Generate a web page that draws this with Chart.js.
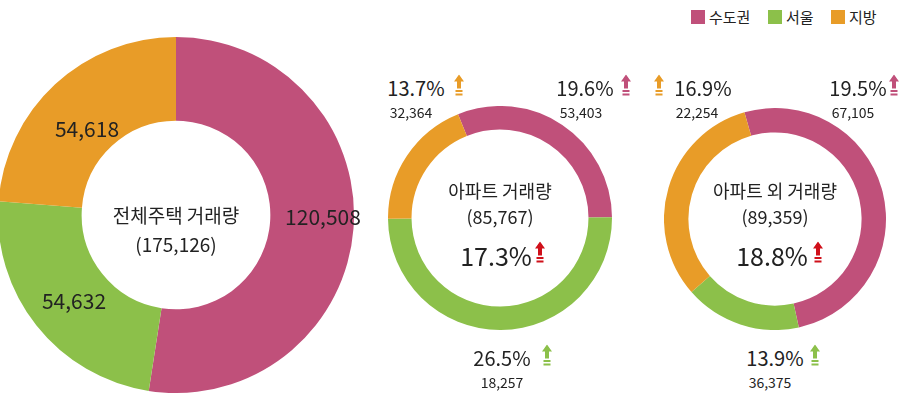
<!DOCTYPE html>
<html><head><meta charset="utf-8">
<script src="https://cdn.jsdelivr.net/npm/chart.js@4"></script>
<style>
body{margin:0;width:900px;height:409px;position:relative;background:#fff;font-family:"Noto Sans CJK KR","Noto Sans",sans-serif;color:#222;overflow:hidden}
canvas{position:absolute}
.t{position:absolute;transform:translate(-50%,-50%);white-space:nowrap;line-height:1}
.lg{position:absolute;top:6px;font-size:15px;display:flex;align-items:center}
.lg i{display:inline-block;width:14px;height:14px;margin-right:4px}
.ar{position:absolute;transform:translate(-50%,-50%)}
</style></head><body>
<canvas id="c1" width="356" height="356" style="left:-2px;top:37px"></canvas>
<canvas id="c2" width="224" height="224" style="left:388px;top:106px"></canvas>
<canvas id="c3" width="222" height="222" style="left:664px;top:108px"></canvas>
<div id="txt"></div>
<script>
// colours: 수도권, 서울, 지방
const labels = ["수도권", "서울", "지방"];
const colors = ["#c0507a", "#8cc04a", "#e89c28"];

// 전체주택 거래량
const totalValues = [120508, 54632, 54618];
// 아파트 / 아파트 외 (arc shares)
const aptShares = [31, 50, 19];
const nonAptShares = [51, 17, 32];

function donut(id, data, cutout, rotation) {
  new Chart(id, {
    type: "doughnut",
    data: { labels: labels, datasets: [{ data: data, backgroundColor: colors, borderWidth: 0 }] },
    options: {
      responsive: false, animation: false, cutout: cutout, rotation: rotation,
      layout: { padding: 0 },
      plugins: { legend: { display: false }, tooltip: { enabled: false } }
    }
  });
}
donut("c1", totalValues, "53%", 0);
donut("c2", aptShares, "79%", -22);
donut("c3", nonAptShares, "78%", -16);

function arrow(color) {
  return '<svg width="10" height="22" viewBox="0 0 10 22"><polygon points="5,0 10,7 7,7 7,14 3,14 3,7 0,7" fill="' + color + '"/>' +
    '<rect x="1.5" y="15.5" width="7" height="2" fill="' + color + '"/><rect x="1.5" y="19" width="7" height="2" fill="' + color + '"/></svg>';
}
const texts = [
  [176, 214, 19, "전체주택 거래량"], [176, 243, 19, "(175,126)"],
  [323, 216, 21, "120,508"], [74, 300, 21, "54,632"], [87, 128, 21, "54,618"],
  [500, 190, 18, "아파트 거래량"], [500, 216, 18, "(85,767)"], [496, 255, 25, "17.3%"],
  [416, 88, 20, "13.7%"], [411, 112, 14, "32,364"],
  [585, 88, 20, "19.6%"], [581, 112, 14, "53,403"],
  [502, 358, 20, "26.5%"], [502, 382, 14, "18,257"],
  [775, 190, 18, "아파트 외 거래량"], [775, 216, 18, "(89,359)"], [772, 255, 25, "18.8%"],
  [703, 88, 20, "16.9%"], [697, 112, 14, "22,254"],
  [858, 88, 20, "19.5%"], [853, 112, 14, "67,105"],
  [775, 358, 20, "13.9%"], [770, 382, 14, "36,375"]
];
const arrows = [
  [540, 255, "#d0101a"], [818, 255, "#d0101a"],
  [459, 88, colors[2]], [626, 88, colors[0]], [547, 358, colors[1]],
  [659, 88, colors[2]], [894, 88, colors[0]], [815, 358, colors[1]]
];
let h = "";
texts.forEach(t => { h += '<div class="t" style="left:' + t[0] + 'px;top:' + t[1] + 'px;font-size:' + t[2] + 'px">' + t[3] + '</div>'; });
arrows.forEach(a => { h += '<div class="ar" style="left:' + a[0] + 'px;top:' + a[1] + 'px">' + arrow(a[2]) + '</div>'; });
const lgX = [691, 768, 831];
labels.forEach((l, i) => { h += '<div class="lg" style="left:' + lgX[i] + 'px"><i style="background:' + colors[i] + '"></i>' + l + '</div>'; });
document.getElementById("txt").innerHTML = h;
</script>
</body></html>
